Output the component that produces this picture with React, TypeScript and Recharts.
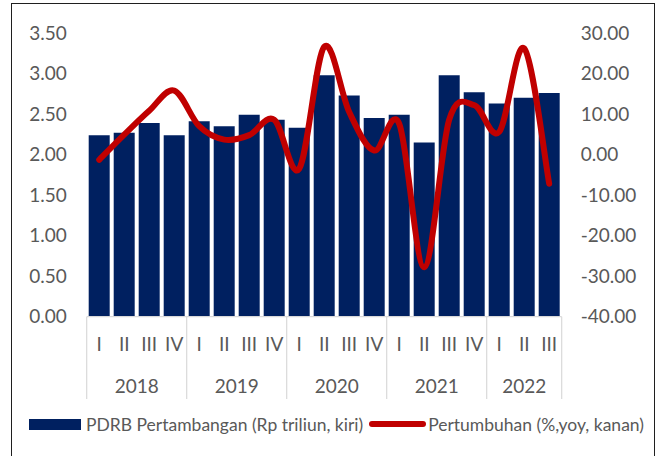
import { Bar, ComposedChart, Legend, Line, XAxis, YAxis } from "recharts";

const quarters = ["I", "II", "III", "IV", "I", "II", "III", "IV", "I", "II", "III", "IV", "I", "II", "III", "IV", "I", "II", "III"];
const years = ["2018", "2019", "2020", "2021", "2022"];
const quartersPerYear = [4, 4, 4, 4, 3];
const pdrb = [2.24, 2.27, 2.39, 2.24, 2.41, 2.35, 2.49, 2.43, 2.33, 2.98, 2.73, 2.45, 2.49, 2.15, 2.98, 2.77, 2.63, 2.7, 2.76];
const growth = [-1.3, 4.9, 10.8, 15.8, 7.0, 3.7, 4.8, 8.6, -3.5, 26.6, 10.5, 1.0, 7.6, -27.8, 8.6, 12.2, 5.6, 26.2, -7.2];
const leftTicks = [0, 0.5, 1, 1.5, 2, 2.5, 3, 3.5];
const rightTicks = [-40, -30, -20, -10, 0, 10, 20, 30];

const data = quarters.map((q, i) => ({ q, pdrb: pdrb[i], growth: growth[i] }));

// index of the first quarter of each year
const groupStarts: number[] = [];
quartersPerYear.reduce((s, n) => {
  groupStarts.push(s);
  return s + n;
}, 0);

const INK = "#595959";
const FONT = "Lato, sans-serif";
const QUARTER_ROW = 41.3;
const YEAR_ROW = 41;

// Excel-like smoothed line (Catmull-Rom through every point)
function excelCurve(context: any) {
  let pts: [number, number][] = [];
  return {
    areaStart() {},
    areaEnd() {},
    lineStart() {
      pts = [];
    },
    lineEnd() {
      const n = pts.length;
      if (!n) return;
      context.moveTo(pts[0][0], pts[0][1]);
      for (let i = 0; i < n - 1; i++) {
        const p0 = pts[Math.max(i - 1, 0)];
        const p1 = pts[i];
        const p2 = pts[i + 1];
        const p3 = pts[Math.min(i + 2, n - 1)];
        context.bezierCurveTo(
          p1[0] + (p2[0] - p0[0]) / 6,
          p1[1] + (p2[1] - p0[1]) / 6,
          p2[0] - (p3[0] - p1[0]) / 6,
          p2[1] - (p3[1] - p1[1]) / 6,
          p2[0],
          p2[1]
        );
      }
    },
    point(x: number, y: number) {
      pts.push([x, y]);
    },
  };
}

function YearTick({ x, y, payload }: any) {
  const i = payload.index;
  const half = payload.offset || 0;
  const g = groupStarts.indexOf(i);
  const sep = (xx: number) => (
    <line x1={xx} x2={xx} y1={y - QUARTER_ROW} y2={y + YEAR_ROW} stroke="#D9D9D9" strokeWidth={1.2} />
  );
  if (g >= 0) {
    const left = x - half;
    return (
      <g>
        {sep(left)}
        <text x={left + quartersPerYear[g] * half} y={y + 35} textAnchor="middle" fill={INK} fontSize={19} fontFamily={FONT}>
          {years[g]}
        </text>
      </g>
    );
  }
  if (i === quarters.length - 1) return sep(x + half);
  return <g />;
}

function renderLegend(props: any) {
  const items = props.payload || [];
  return (
    <div
      style={{
        height: 50,
        display: "flex",
        alignItems: "center",
        paddingLeft: 29,
        fontFamily: FONT,
        fontSize: 17.5,
        color: INK,
        whiteSpace: "nowrap",
      }}
    >
      {items.map((it: any) => (
        <div key={it.value} style={{ display: "flex", alignItems: "center", marginRight: 6 }}>
          {it.type === "line" ? (
            <span style={{ width: 57, height: 6, borderRadius: 3, background: it.color, marginRight: 2 }} />
          ) : (
            <span style={{ width: 52, height: 11, background: it.color, marginRight: 5 }} />
          )}
          <span>{it.value}</span>
        </div>
      ))}
    </div>
  );
}

export default function App() {
  return (
    <div style={{ position: "absolute", left: 0, top: 0, width: 664, height: 456, overflow: "hidden", background: "#fff" }}>
      <div
        style={{
          position: "absolute",
          left: 10.5,
          top: 3,
          width: 644,
          height: 500,
          border: "1.5px solid #1f1f1f",
          boxSizing: "border-box",
        }}
      />
      <div style={{ position: "absolute", left: 0, top: 0 }}>
        <ComposedChart width={664} height={456} data={data} margin={{ top: 33, right: 0, bottom: 7, left: 0 }} barCategoryGap={2}>
          <XAxis
            dataKey="q"
            interval={0}
            height={QUARTER_ROW}
            axisLine={{ stroke: "#D9D9D9", strokeWidth: 1.2 }}
            tickLine={false}
            tickSize={0}
            tickMargin={21}
            tick={{ fill: INK, fontSize: 19, fontFamily: FONT }}
          />
          <XAxis
            xAxisId="yr"
            dataKey="q"
            interval={0}
            height={YEAR_ROW}
            axisLine={false}
            tickLine={false}
            tickSize={0}
            tickMargin={0}
            tick={<YearTick />}
          />
          <YAxis
            yAxisId="left"
            domain={[0, 3.5]}
            ticks={leftTicks}
            interval={0}
            width={86.7}
            axisLine={false}
            tickLine={false}
            tickSize={0}
            tickMargin={20}
            tickFormatter={(v: number) => v.toFixed(2)}
            tick={{ fill: INK, fontSize: 19, fontFamily: FONT }}
          />
          <YAxis
            yAxisId="right"
            orientation="right"
            domain={[-40, 30]}
            ticks={rightTicks}
            interval={0}
            width={102.3}
            axisLine={false}
            tickLine={false}
            tickSize={0}
            tickMargin={19}
            tickFormatter={(v: number) => v.toFixed(2)}
            tick={{ fill: INK, fontSize: 19, fontFamily: FONT, textAnchor: "start" }}
          />
          <Legend verticalAlign="bottom" content={renderLegend} />
          <Bar
            yAxisId="left"
            dataKey="pdrb"
            name="PDRB Pertambangan (Rp triliun, kiri)"
            fill="#002060"
            isAnimationActive={false}
          />
          <Line
            yAxisId="right"
            dataKey="growth"
            name="Pertumbuhan (%,yoy, kanan)"
            type={excelCurve as any}
            stroke="#C00000"
            strokeWidth={6}
            strokeLinecap="round"
            dot={false}
            activeDot={false}
            legendType="line"
            isAnimationActive={false}
          />
        </ComposedChart>
      </div>
    </div>
  );
}
